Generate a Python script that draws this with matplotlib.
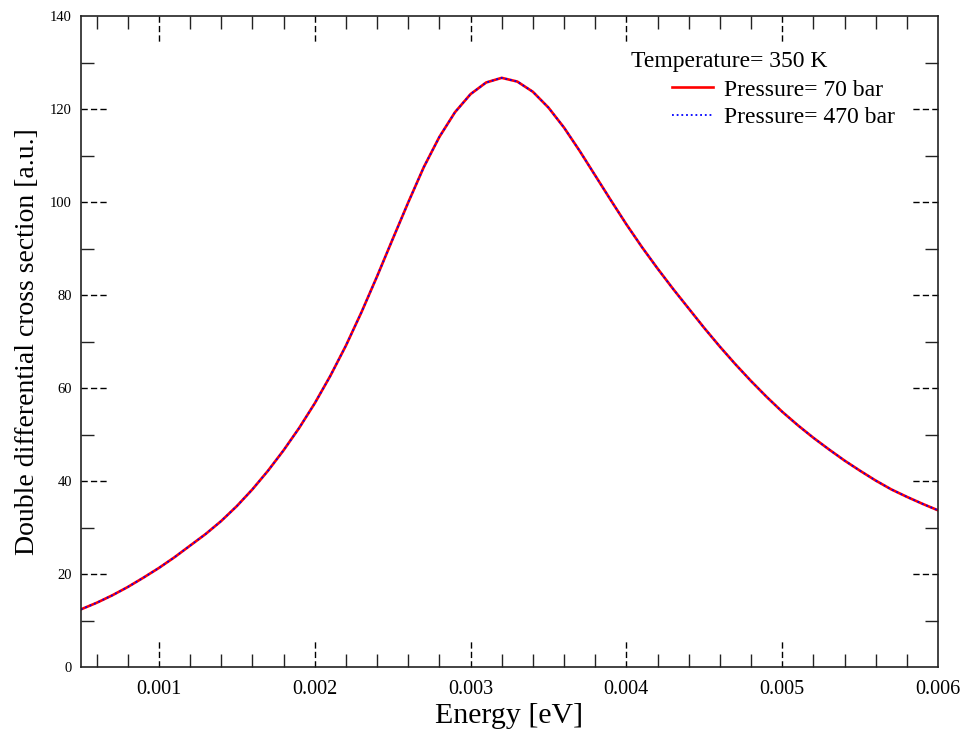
import numpy as np
import matplotlib
matplotlib.use("Agg")
import matplotlib.pyplot as plt
from matplotlib.transforms import blended_transform_factory
from matplotlib.ticker import FixedLocator

plt.rcParams['font.family'] = ['Liberation Serif', 'DejaVu Serif']

# energy [eV] and double differential cross section [a.u.]
energy = [0.0005, 0.0006, 0.0007, 0.0008, 0.0009, 0.0010, 0.0011, 0.0012,
          0.0013, 0.0014, 0.0015, 0.0016, 0.0017, 0.0018, 0.0019, 0.0020,
          0.0021, 0.0022, 0.0023, 0.0024, 0.0025, 0.0026, 0.0027, 0.0028,
          0.0029, 0.0030, 0.0031, 0.0032, 0.0033, 0.0034, 0.0035, 0.0036,
          0.0037, 0.0038, 0.0039, 0.0040, 0.0041, 0.0042, 0.0043, 0.0044,
          0.0045, 0.0046, 0.0047, 0.0048, 0.0049, 0.0050, 0.0051, 0.0052,
          0.0053, 0.0054, 0.0055, 0.0056, 0.0057, 0.0058, 0.0059, 0.0060]
ddcs_70bar = [12.4, 13.8, 15.4, 17.2, 19.2, 21.3, 23.6, 26.1,
              28.6, 31.4, 34.6, 38.2, 42.2, 46.6, 51.4, 56.7,
              62.6, 69.1, 76.3, 84.0, 92.0, 99.9, 107.5, 114.0,
              119.3, 123.2, 125.7, 126.7, 125.9, 123.7, 120.3, 116.0,
              111.0, 105.7, 100.4, 95.2, 90.3, 85.7, 81.3, 77.1,
              72.9, 68.9, 65.1, 61.5, 58.1, 54.9, 52.0, 49.3,
              46.8, 44.4, 42.2, 40.1, 38.2, 36.6, 35.1, 33.7]
ddcs_470bar = [12.4, 13.8, 15.4, 17.2, 19.2, 21.3, 23.6, 26.1,
               28.6, 31.4, 34.6, 38.2, 42.2, 46.6, 51.4, 56.7,
               62.6, 69.1, 76.3, 84.0, 92.0, 99.9, 107.5, 114.0,
               119.3, 123.2, 125.7, 126.7, 125.9, 123.7, 120.3, 116.0,
               111.0, 105.7, 100.4, 95.2, 90.3, 85.7, 81.3, 77.1,
               72.9, 68.9, 65.1, 61.5, 58.1, 54.9, 52.0, 49.3,
               46.8, 44.4, 42.2, 40.1, 38.2, 36.6, 35.1, 33.7]

x_major = [0.001, 0.002, 0.003, 0.004, 0.005, 0.006]
x_labels = ["0.001", "0.002", "0.003", "0.004", "0.005", "0.006"]
x_minor = [0.0006, 0.0008, 0.0012, 0.0014, 0.0016, 0.0018, 0.0022, 0.0024,
           0.0026, 0.0028, 0.0032, 0.0034, 0.0036, 0.0038, 0.0042, 0.0044,
           0.0046, 0.0048, 0.0052, 0.0054, 0.0056, 0.0058]
y_major = [0, 20, 40, 60, 80, 100, 120, 140]
y_minor = [10, 30, 50, 70, 90, 110, 130]

W, H = 964, 733
fig = plt.figure(figsize=(W / 100, H / 100), dpi=100)
ax = fig.add_axes([81 / W, 66 / H, 857 / W, 651 / H])

ax.plot(energy, ddcs_70bar, color="red", lw=1.9, label="Pressure= 70 bar")
ax.plot(energy, ddcs_470bar, color="blue", lw=1.3, linestyle=(0, (1, 1.6)),
        label="Pressure= 470 bar")

ax.set_xlim(0.0005, 0.006)
ax.set_ylim(0, 140)

for s in ax.spines.values():
    s.set_linewidth(1.2)
    s.set_color("#222222")

# major ticks: labels only, the marks are dashed lines drawn below
ax.xaxis.set_major_locator(FixedLocator(x_major))
ax.set_xticklabels(x_labels)
ax.yaxis.set_major_locator(FixedLocator(y_major))
ax.xaxis.set_minor_locator(FixedLocator(x_minor))
ax.yaxis.set_minor_locator(FixedLocator(y_minor))
ax.tick_params(which="major", length=0, top=False, right=False)
ax.tick_params(axis="x", which="major", labelsize=14.5, pad=9)
ax.tick_params(axis="y", which="major", labelsize=10.5, pad=6.5)
ax.tick_params(which="minor", direction="in", length=9.5, width=1.0,
               top=True, right=True, bottom=True, left=True, color="#222222")

tick_len_x = 26 / 651
tick_len_y = 27 / 857
dash = (0, (4.5, 2.3))
trx = blended_transform_factory(ax.transData, ax.transAxes)
for xv in x_major[:-1]:
    ax.plot([xv, xv], [0, tick_len_x], transform=trx, color="black", lw=1.0,
            linestyle=dash, clip_on=False)
    ax.plot([xv, xv], [1, 1 - tick_len_x], transform=trx, color="black", lw=1.0,
            linestyle=dash, clip_on=False)
try_ = blended_transform_factory(ax.transAxes, ax.transData)
for yv in y_major[1:-1]:
    ax.plot([0, tick_len_y], [yv, yv], transform=try_, color="black", lw=1.0,
            linestyle=dash, clip_on=False)
    ax.plot([1, 1 - tick_len_y], [yv, yv], transform=try_, color="black", lw=1.0,
            linestyle=dash, clip_on=False)

ax.set_xlabel("Energy [eV]", fontsize=21.5, labelpad=3)
ax.set_ylabel("Double differential cross section [a.u.]", fontsize=20, labelpad=7.5)

fig.text(631 / W, 1 - 62 / H, "Temperature= 350 K", fontsize=17,
         ha="left", va="center")
leg = ax.legend(loc="upper left", bbox_to_anchor=(672 / W, 1 - 79 / H),
                bbox_transform=fig.transFigure, frameon=False, fontsize=17,
                handlelength=1.75, handletextpad=0.45, labelspacing=0.25,
                borderpad=0, borderaxespad=0)

fig.savefig("out.png", dpi=100)
